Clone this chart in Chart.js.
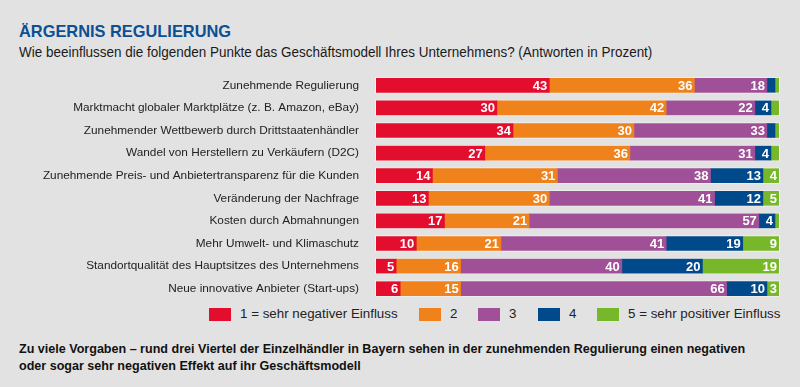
<!DOCTYPE html>
<html>
<head>
<meta charset="utf-8">
<script src="https://cdn.jsdelivr.net/npm/chart.js@4"></script>
<style>
  body { margin: 0; background: #e2e2e2; width: 800px; height: 387px; overflow: hidden; position: relative; font-family: "Liberation Sans", Arial, sans-serif; }
  #title { position: absolute; left: 19px; top: 22px; font-size: 17px; font-weight: bold; color: #0b4f94; white-space: nowrap; }
  #subtitle { position: absolute; left: 19px; top: 44px; font-size: 14px; color: #1a1a1a; white-space: nowrap; }
  #wrap { position: absolute; left: 0; top: 74px; width: 800px; height: 226px; }
  #legend { position: absolute; left: 209px; top: 308px; height: 13px; display: flex; align-items: center; }
  #legend .item { display: flex; align-items: center; margin-right: 21px; }
  #legend .box { width: 22px; height: 13px; margin-right: 9px; }
  #legend .txt { font-size: 12.5px; color: #222; line-height: 13px; }
  #footer { position: absolute; left: 19px; top: 340px; font-weight: bold; font-size: 13px; line-height: 17px; color: #111; }
  .sq { display: inline-block; white-space: nowrap; transform-origin: left center; }
</style>
</head>
<body>
<div id="title"><span class="sq" data-w="212">ÄRGERNIS REGULIERUNG</span></div>
<div id="subtitle"><span class="sq" data-w="633">Wie beeinflussen die folgenden Punkte das Geschäftsmodell Ihres Unternehmens? (Antworten in Prozent)</span></div>
<div id="wrap"><canvas id="chart"></canvas></div>
<div id="legend"></div>
<div id="footer">
  <div><span class="sq" data-w="726">Zu viele Vorgaben – rund drei Viertel der Einzelhändler in Bayern sehen in der zunehmenden Regulierung einen negativen</span></div>
  <div><span class="sq foot2">oder sogar sehr negativen Effekt auf ihr Geschäftsmodell</span></div>
</div>

<script>
// Data
const categories = [
    'Zunehmende Regulierung',
    'Marktmacht globaler Marktplätze (z. B. Amazon, eBay)',
    'Zunehmender Wettbewerb durch Drittstaatenhändler',
    'Wandel von Herstellern zu Verkäufern (D2C)',
    'Zunehmende Preis- und Anbietertransparenz für die Kunden',
    'Veränderung der Nachfrage',
    'Kosten durch Abmahnungen',
    'Mehr Umwelt- und Klimaschutz',
    'Standortqualität des Hauptsitzes des Unternehmens',
    'Neue innovative Anbieter (Start-ups)'
];
const seriesLabels = ['1 = sehr negativer Einfluss', '2', '3', '4', '5 = sehr positiver Einfluss'];
const veryNegative = [43, 30, 34, 27, 14, 13, 17, 10, 5, 6];
const negative     = [36, 42, 30, 36, 31, 30, 21, 21, 16, 15];
const neutral      = [18, 22, 33, 31, 38, 41, 57, 41, 40, 66];
const positive     = [2, 4, 2, 4, 13, 12, 4, 19, 20, 10];
const veryPositive = [1, 2, 1, 2, 4, 5, 1, 9, 19, 3];

const colors = ['#e30d2e', '#f0821c', '#a05096', '#004a8b', '#77b72a'];
const seriesValues = [veryNegative, negative, neutral, positive, veryPositive];

// Legend (html, same colours and labels as the datasets)
const legendEl = document.getElementById('legend');
seriesLabels.forEach((label, i) => {
    const item = document.createElement('div');
    item.className = 'item';
    item.innerHTML = '<div class="box" style="background:' + colors[i] + '"></div>' +
        '<span class="txt sq">' + label + '</span>';
    legendEl.appendChild(item);
});

// squeeze text horizontally to mimic the narrower font of the original
function squeeze(el, ratio) {
    const w = el.offsetWidth;
    el.style.transform = 'scaleX(' + ratio + ')';
    el.style.marginRight = (w * ratio - w) + 'px';
}
document.querySelectorAll('.sq[data-w]').forEach(el => {
    const r = parseFloat(el.dataset.w) / el.offsetWidth;
    squeeze(el, r);
    if (el.closest('#footer')) squeeze(document.querySelector('.foot2'), r);
});
const legendTexts = document.querySelectorAll('#legend .txt');
const lr = 158 / legendTexts[0].offsetWidth;
legendTexts.forEach(el => squeeze(el, lr));

// light frame behind each bar
const barFrame = {
    id: 'barFrame',
    beforeDatasetsDraw(chart) {
        const ctx = chart.ctx;
        const first = chart.getDatasetMeta(0).data;
        const last = chart.getDatasetMeta(seriesValues.length - 1).data;
        const right = chart.chartArea.right;
        ctx.save();
        ctx.fillStyle = '#f3f3f3';
        first.forEach((el, i) => {
            const h = el.height;
            const x0 = el.base;
            const x1 = Math.min(last[i].x, right);
            ctx.fillRect(x0 - 1, el.y - h / 2 - 1, x1 - x0 + 2, h + 2);
        });
        ctx.restore();
    }
};

// white value labels at the end of each segment
const valueLabels = {
    id: 'valueLabels',
    afterDatasetsDraw(chart) {
        const ctx = chart.ctx;
        const right = chart.chartArea.right;
        ctx.save();
        ctx.fillStyle = '#fff';
        ctx.font = 'bold 13px "Liberation Sans", Arial, sans-serif';
        ctx.textAlign = 'right';
        ctx.textBaseline = 'middle';
        chart.data.datasets.forEach((ds, d) => {
            chart.getDatasetMeta(d).data.forEach((el, i) => {
                const v = ds.data[i];
                if (v >= 3) ctx.fillText(v, Math.min(el.x, right) - 2, el.y + 1);
            });
        });
        ctx.restore();
    }
};

new Chart(document.getElementById('chart'), {
    type: 'bar',
    data: {
        labels: categories,
        datasets: seriesLabels.map((label, i) => ({
            label: label,
            data: seriesValues[i],
            backgroundColor: colors[i],
            borderWidth: 0,
            barThickness: 14
        }))
    },
    options: {
        indexAxis: 'y',
        responsive: true,
        maintainAspectRatio: false,
        animation: false,
        layout: { padding: { left: 0, right: 21, top: 0, bottom: 0 } },
        scales: {
            x: {
                stacked: true,
                min: 0,
                max: 100,
                display: false
            },
            y: {
                stacked: true,
                grid: { display: false },
                border: { display: false },
                ticks: {
                    color: '#222',
                    padding: 9,
                    font: { size: 11.8, family: '"Liberation Sans", Arial, sans-serif' }
                },
                afterFit(scale) {
                    scale.width = 376;
                    scale.paddingTop = 0;
                    scale.paddingBottom = 0;
                }
            }
        },
        plugins: {
            tooltip: { enabled: false },
            legend: { display: false }
        }
    },
    plugins: [barFrame, valueLabels]
});
</script>
</body>
</html>
